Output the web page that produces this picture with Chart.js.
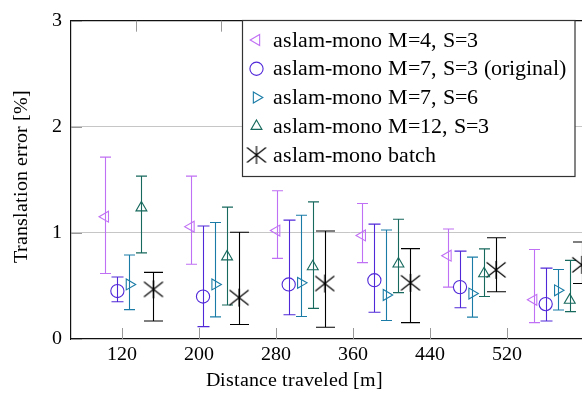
<!DOCTYPE html>
<html>
  <head>
    <style>
      @font-face {
        font-family: 'PlotSerif';
        src: local('Liberation Serif'), local('LiberationSerif'), local('LiberationSerif-Regular'), local('Times New Roman');
      }
      html, body {
        margin: 0;
        padding: 0;
        background: #fff;
        overflow: hidden;
        width: 582px;
        height: 397px;
      }
      #chart {
        display: block;
      }
      #probe {
        position: absolute;
        left: -999px;
        font-family: 'PlotSerif', 'Liberation Serif', serif;
      }
    </style>
    <script src="https://cdn.jsdelivr.net/npm/chart.js"></script>
  </head>
  <body>
    <span id="probe">aslam 120</span>
    <canvas id="chart" width="640" height="397"></canvas>
    <script>
      // distance tick labels (bottom axis)
      var distTicks = [120, 200, 280, 360, 440, 520];
      var distLabels = ['120', '200', '280', '360', '440', '520'];
      // group positions (top axis ticks) and the shift of each series inside a group
      var groupX = [134.5, 223.5, 312.5, 401.5, 490.5, 579.5];
      var seriesShift = [-31.5, -19, -6.5, 6, 18.5];

      var seriesNames = [
        'aslam-mono M=4, S=3',
        'aslam-mono M=7, S=3 (original)',
        'aslam-mono M=7, S=6',
        'aslam-mono M=12, S=3',
        'aslam-mono batch'
      ];

      // mean translation error [%]
      var m4s3 = [1.153, 1.059, 1.022, 0.976, 0.785, 0.369];
      var m7s3 = [0.452, 0.400, 0.514, 0.554, 0.489, 0.329];
      var m7s6 = [0.514, 0.514, 0.529, 0.415, 0.428, 0.459];
      var m12s3 = [1.237, 0.775, 0.683, 0.708, 0.616, 0.366];
      var batch = [0.468, 0.390, 0.523, 0.529, 0.652, 0.699];

      // lower / upper end of the error bars
      var m4s3Low = [0.618, 0.705, 0.760, 0.720, 0.489, 0.154];
      var m4s3High = [1.714, 1.535, 1.397, 1.277, 1.037, 0.843];
      var m7s3Low = [0.351, 0.117, 0.228, 0.252, 0.295, 0.169];
      var m7s3High = [0.585, 1.065, 1.120, 1.083, 0.828, 0.668];
      var m7s6Low = [0.277, 0.209, 0.212, 0.175, 0.206, 0.274];
      var m7s6High = [0.791, 1.098, 1.166, 1.027, 0.772, 0.655];
      var m12s3Low = [0.812, 0.320, 0.289, 0.437, 0.400, 0.258];
      var m12s3High = [1.535, 1.243, 1.292, 1.129, 0.849, 0.741];
      var batchLow = [0.169, 0.136, 0.111, 0.154, 0.446, 0.523];
      var batchHigh = [0.628, 1.006, 1.018, 0.852, 0.954, 0.914];

      var serif = "PlotSerif, 'Liberation Serif', 'DejaVu Serif', serif";

      // asterisk mark like the pgfplots one
      function makeStar(color) {
        var c = document.createElement('canvas');
        c.width = 22;
        c.height = 20;
        var g = c.getContext('2d');
        g.strokeStyle = color;
        g.lineWidth = 1.2;
        g.beginPath();
        g.moveTo(11, 1); g.lineTo(11, 19);
        g.moveTo(1.5, 2.5); g.lineTo(20.5, 17.5);
        g.moveTo(1.5, 17.5); g.lineTo(20.5, 2.5);
        g.stroke();
        return c;
      }

      var styles = [
        { color: '#c070f4', style: 'triangle', rot: -90, r: 6.3, cap: 5.5 },
        { color: '#5028d8', style: 'circle', rot: 0, r: 6.6, cap: 6 },
        { color: '#1a7ca6', style: 'triangle', rot: 90, r: 6.3, cap: 5.5 },
        { color: '#17695d', style: 'triangle', rot: 0, r: 6.3, cap: 5.5 },
        { color: '#000000', style: makeStar('#000000'), rot: 0, r: 9, cap: 9.5 }
      ];

      var means = [m4s3, m7s3, m7s6, m12s3, batch];
      var lows = [m4s3Low, m7s3Low, m7s6Low, m12s3Low, batchLow];
      var highs = [m4s3High, m7s3High, m7s6High, m12s3High, batchHigh];

      var datasets = means.map(function(vals, s) {
        return {
          label: seriesNames[s],
          data: vals.map(function(v, i) {
            return { x: groupX[i] + seriesShift[s], y: v, lo: lows[s][i], hi: highs[s][i] };
          }),
          showLine: false,
          clip: false,
          pointStyle: styles[s].style,
          rotation: styles[s].rot,
          pointRadius: styles[s].r,
          pointBorderWidth: 1.1,
          borderColor: styles[s].color,
          backgroundColor: 'rgba(0,0,0,0)',
          capHalf: styles[s].cap
        };
      });

      var errorBars = {
        id: 'errorBars',
        beforeDatasetsDraw: function(chart) {
          var ctx = chart.ctx;
          var xs = chart.scales.x, ys = chart.scales.y;
          ctx.save();
          ctx.lineWidth = 1.1;
          chart.data.datasets.forEach(function(ds) {
            ctx.strokeStyle = ds.borderColor;
            ds.data.forEach(function(p) {
              var px = Math.round(xs.getPixelForValue(p.x)) + 0.5;
              var top = ys.getPixelForValue(p.hi);
              var bot = ys.getPixelForValue(p.lo);
              ctx.beginPath();
              ctx.moveTo(px, top); ctx.lineTo(px, bot);
              ctx.moveTo(px - ds.capHalf, top); ctx.lineTo(px + ds.capHalf, top);
              ctx.moveTo(px - ds.capHalf, bot); ctx.lineTo(px + ds.capHalf, bot);
              ctx.stroke();
            });
          });
          ctx.restore();
        }
      };

      // pgfplots style ticks pointing into the plot
      var innerTicks = {
        id: 'innerTicks',
        beforeDatasetsDraw: function(chart) {
          var ctx = chart.ctx, a = chart.chartArea;
          var len = 11;
          ctx.save();
          ctx.strokeStyle = '#999';
          ctx.lineWidth = 1;
          ctx.beginPath();
          chart.scales.x.ticks.forEach(function(t) {
            var px = Math.round(chart.scales.x.getPixelForValue(t.value)) + 0.5;
            ctx.moveTo(px, a.bottom); ctx.lineTo(px, a.bottom - len);
          });
          chart.scales.xTop.ticks.forEach(function(t) {
            var px = Math.round(chart.scales.xTop.getPixelForValue(t.value)) + 0.5;
            ctx.moveTo(px, a.top); ctx.lineTo(px, a.top + len);
          });
          chart.scales.y.ticks.forEach(function(t) {
            var py = Math.round(chart.scales.y.getPixelForValue(t.value)) + 0.5;
            ctx.moveTo(a.left, py); ctx.lineTo(a.left + len, py);
          });
          ctx.stroke();
          ctx.restore();
        }
      };

      function drawMark(ctx, st, x, y) {
        ctx.save();
        ctx.strokeStyle = st.color;
        ctx.lineWidth = 1.1;
        if (st.style === 'circle') {
          ctx.beginPath();
          ctx.arc(x, y, st.r, 0, Math.PI * 2);
          ctx.stroke();
        } else if (st.style === 'triangle') {
          var rad = st.rot * Math.PI / 180;
          ctx.beginPath();
          for (var k = 0; k < 3; k++) {
            var ang = rad + k * 2 * Math.PI / 3;
            var vx = x + Math.sin(ang) * st.r, vy = y - Math.cos(ang) * st.r;
            if (k === 0) ctx.moveTo(vx, vy); else ctx.lineTo(vx, vy);
          }
          ctx.closePath();
          ctx.stroke();
        } else {
          ctx.drawImage(st.style, x - st.style.width / 2, y - st.style.height / 2);
        }
        ctx.restore();
      }

      var legendBox = {
        id: 'legendBox',
        afterDraw: function(chart) {
          var ctx = chart.ctx;
          ctx.save();
          ctx.fillStyle = '#fff';
          ctx.strokeStyle = '#333';
          ctx.lineWidth = 1.2;
          ctx.fillRect(242.5, 20.5, 332.5, 156);
          ctx.strokeRect(242.5, 20.5, 332.5, 156);
          ctx.font = '21.6px ' + serif;
          ctx.fillStyle = '#000';
          ctx.textBaseline = 'middle';
          seriesNames.forEach(function(name, i) {
            var y = 40 + i * 28.75;
            drawMark(ctx, styles[i], 256.5, y);
            ctx.fillText(name, 272.5, y + 1);
          });
          ctx.restore();
        }
      };

      var axisTitles = {
        id: 'axisTitles',
        afterDraw: function(chart) {
          var ctx = chart.ctx;
          ctx.save();
          ctx.font = '19.5px ' + serif;
          ctx.fillStyle = '#000';
          ctx.textAlign = 'center';
          ctx.textBaseline = 'middle';
          ctx.fillText('Distance traveled [m]', 294, 381);
          ctx.translate(22, 176);
          ctx.rotate(-Math.PI / 2);
          ctx.fillText('Translation error [%]', 0, 0);
          ctx.restore();
        }
      };

      function draw() {
        var chart = new Chart(document.getElementById('chart').getContext('2d'), {
          type: 'scatter',
          data: { datasets: datasets },
          options: {
            responsive: false,
            animation: false,
            layout: { padding: 0 },
            plugins: { legend: { display: false }, tooltip: { enabled: false } },
            scales: {
              x: {
                type: 'linear',
                position: 'bottom',
                min: 67.5,
                max: 658.7,
                afterBuildTicks: function(s) {
                  s.ticks = distTicks.map(function(v) { return { value: v }; });
                },
                afterFit: function(s) { s.height = 58; },
                ticks: {
                  autoSkip: false,
                  maxRotation: 0,
                  padding: 4,
                  color: '#000',
                  font: { family: serif, size: 19.5 },
                  callback: function(v, i) { return distLabels[i]; }
                },
                grid: { display: false, drawTicks: false },
                border: { color: '#111', width: 1.2 }
              },
              xTop: {
                type: 'linear',
                position: 'top',
                min: 67.5,
                max: 658.7,
                afterBuildTicks: function(s) {
                  s.ticks = groupX.map(function(v) { return { value: v }; });
                },
                afterFit: function(s) { s.height = 14; },
                ticks: { display: false },
                grid: { display: false, drawTicks: false },
                border: { color: '#111', width: 1.2 }
              },
              y: {
                min: 0,
                max: 3,
                afterFit: function(s) { s.width = 71; },
                ticks: {
                  stepSize: 1,
                  padding: 9,
                  color: '#000',
                  font: { family: serif, size: 19.5 }
                },
                grid: {
                  drawTicks: false,
                  color: function(c) {
                    return (c.tick && (c.tick.value === 1 || c.tick.value === 2)) ? '#c6c6c6' : 'rgba(0,0,0,0)';
                  }
                },
                border: { color: '#111', width: 1.2 }
              }
            }
          },
          plugins: [innerTicks, errorBars, legendBox, axisTitles]
        });

        // fit the distance axis so 120 m sits at x=121.7 with 0.9625 px per metre
        var a = chart.chartArea;
        var lo = 120 - (121.7 - a.left) / 0.9625;
        var hi = lo + (a.right - a.left) / 0.9625;
        ['x', 'xTop'].forEach(function(id) {
          chart.options.scales[id].min = lo;
          chart.options.scales[id].max = hi;
        });
        chart.update();
      }

      var started = false;
      function start() {
        if (started) return;
        started = true;
        draw();
      }
      if (document.fonts && document.fonts.load) {
        document.fonts.load("20px PlotSerif").then(function() {
          return document.fonts.ready;
        }).then(start, start);
        setTimeout(start, 1500);
      } else {
        start();
      }
    </script>
  </body>
</html>
